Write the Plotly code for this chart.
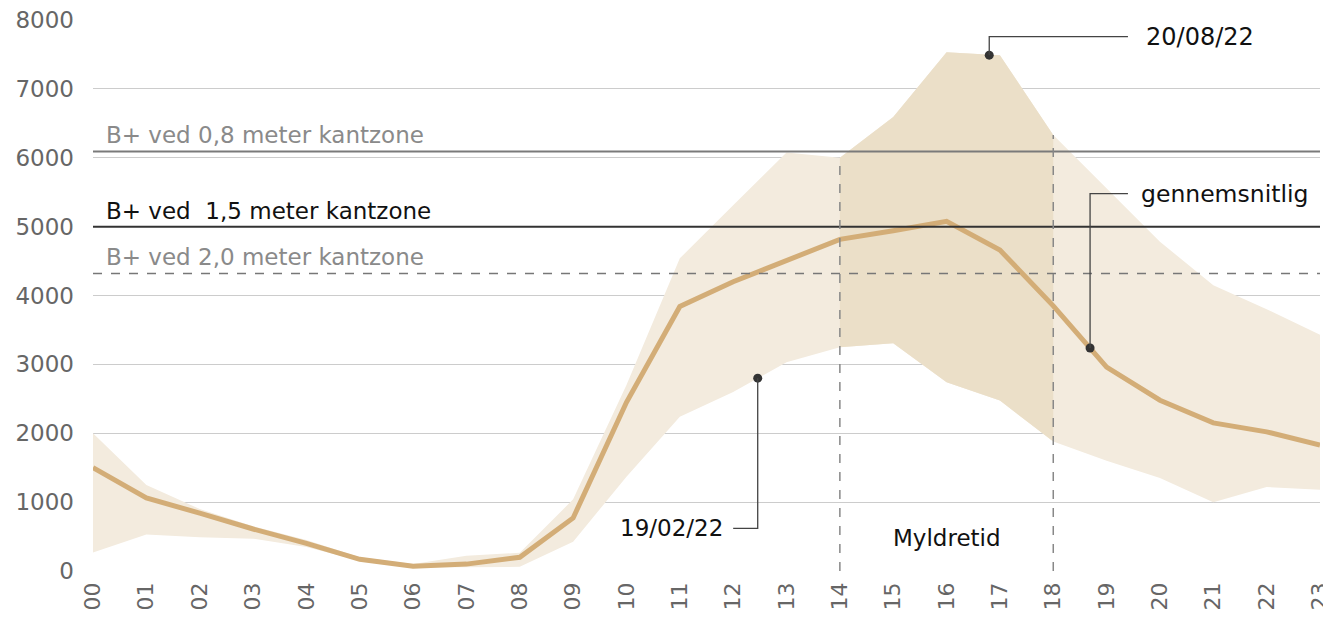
import plotly.graph_objects as go

hours = ["00","01","02","03","04","05","06","07","08","09","10","11",
         "12","13","14","15","16","17","18","19","20","21","22","23"]
mean_vals = [1500, 1060, 840, 610, 400, 170, 70, 100, 200, 770, 2450, 3840,
             4200, 4515, 4815, 4940, 5077, 4660, 3850, 2960, 2480, 2150, 2020, 1830]
upper_vals = [2000, 1250, 900, 650, 450, 200, 100, 220, 265, 1040, 2700, 4540,
              5310, 6075, 6000, 6590, 7530, 7490, 6330, 5550, 4780, 4150, 3800, 3430]
lower_vals = [270, 530, 490, 470, 350, 150, 50, 50, 60, 425, 1370, 2240,
              2600, 3030, 3250, 3305, 2740, 2475, 1880, 1600, 1350, 1000, 1220, 1180]
rush_start, rush_end = 14, 18
ref_labels = ["B+ ved 0,8 meter kantzone", "B+ ved  1,5 meter kantzone", "B+ ved 2,0 meter kantzone"]
ref_values = [6090, 5000, 4320]
y_ticks = [0, 1000, 2000, 3000, 4000, 5000, 6000, 7000, 8000]

x = list(range(len(hours)))
FONT = "DejaVu Sans"
light = "#f3ebde"
dark = "#ebdfc8"
line_col = "#d3ad77"

fig = go.Figure()
# light band
fig.add_trace(go.Scatter(x=x, y=lower_vals, mode="lines", line=dict(width=0), hoverinfo="skip", showlegend=False))
fig.add_trace(go.Scatter(x=x, y=upper_vals, mode="lines", line=dict(width=0), fill="tonexty",
                         fillcolor=light, hoverinfo="skip", showlegend=False))
# darker rush-hour band
xr = x[rush_start:rush_end + 1]
fig.add_trace(go.Scatter(x=xr, y=lower_vals[rush_start:rush_end + 1], mode="lines", line=dict(width=0),
                         hoverinfo="skip", showlegend=False))
fig.add_trace(go.Scatter(x=xr, y=upper_vals[rush_start:rush_end + 1], mode="lines", line=dict(width=0),
                         fill="tonexty", fillcolor=dark, hoverinfo="skip", showlegend=False))
# mean line
fig.add_trace(go.Scatter(x=x, y=mean_vals, mode="lines", line=dict(color=line_col, width=5),
                         showlegend=False))

shapes = []
# reference lines
ref_styles = [dict(color="#7a7a7a", width=2), dict(color="#333333", width=2),
              dict(color="#777777", width=1.5, dash="dash")]
ref_colors = ["#8a8a8a", "#111111", "#8a8a8a"]
for v, st in zip(ref_values, ref_styles):
    shapes.append(dict(type="line", xref="x", yref="y", x0=0, x1=23, y0=v, y1=v, line=st, layer="above"))
# rush hour dashed verticals
for h in (rush_start, rush_end):
    shapes.append(dict(type="line", xref="x", yref="y", x0=h, x1=h, y0=0, y1=upper_vals[h],
                       line=dict(color="#888888", width=1.5, dash="dash"), layer="above"))

# annotation leaders (dot positions)
dots_x = [16.8, 18.69, 12.46]
dots_y = [7490, 3238, 2800]
leader = dict(color="#444444", width=1.3)
shapes.append(dict(type="path", xref="x", yref="y",
                   path=f"M {dots_x[0]},{dots_y[0]} L {dots_x[0]},7760 L 19.4,7760", line=leader))
shapes.append(dict(type="path", xref="x", yref="y",
                   path=f"M {dots_x[1]},{dots_y[1]} L {dots_x[1]},5480 L 19.4,5480", line=leader))
shapes.append(dict(type="path", xref="x", yref="y",
                   path=f"M {dots_x[2]},{dots_y[2]} L {dots_x[2]},620 L 12.0,620", line=leader))
fig.add_trace(go.Scatter(x=dots_x, y=dots_y, mode="markers",
                         marker=dict(color="#333333", size=9), showlegend=False))

annotations = []
ref_label_y = [6330, 5225, 4560]
for lab, yy, c in zip(ref_labels, ref_label_y, ref_colors):
    annotations.append(dict(x=0.2, y=yy, xref="x", yref="y", text=lab, showarrow=False,
                            xanchor="left", yanchor="middle", font=dict(family=FONT, size=23, color=c)))
annotations += [
    dict(x=19.7, y=7760, xref="x", yref="y", text="20/08/22", showarrow=False, xanchor="left",
         yanchor="middle", font=dict(family=FONT, size=24, color="#111111")),
    dict(x=19.6, y=5480, xref="x", yref="y", text="gennemsnitlig", showarrow=False, xanchor="left",
         yanchor="middle", font=dict(family=FONT, size=23.5, color="#111111")),
    dict(x=11.85, y=620, xref="x", yref="y", text="19/02/22", showarrow=False, xanchor="right",
         yanchor="middle", font=dict(family=FONT, size=23, color="#111111")),
    dict(x=16, y=480, xref="x", yref="y", text="Myldretid", showarrow=False, xanchor="center",
         yanchor="middle", font=dict(family=FONT, size=23, color="#111111")),
]

# page body has an 8px default margin, so the figure is offset by 8px
fig.update_layout(
    width=1323, height=613,
    margin=dict(l=85, r=11, t=12, b=50),
    plot_bgcolor="white", paper_bgcolor="white",
    shapes=shapes, annotations=annotations,
    font=dict(family=FONT, size=22, color="#555555"),
    xaxis=dict(range=[0, 23], tickmode="array", tickvals=x, ticktext=hours, tickangle=-90,
               showgrid=False, zeroline=False, showline=False, ticks="", automargin=False,
               ticklabeloverflow="allow",
               tickfont=dict(family=FONT, size=22, color="#666666"), ticklabelstandoff=6),
    yaxis=dict(range=[0, 8000], tickvals=y_ticks, showgrid=True, gridcolor="#cccccc", gridwidth=1,
               zeroline=False, showline=False, ticks="", automargin=False,
               ticklabeloverflow="allow",
               tickfont=dict(family=FONT, size=23, color="#666666"), ticklabelstandoff=18),
)

fig.write_html("out.html")
